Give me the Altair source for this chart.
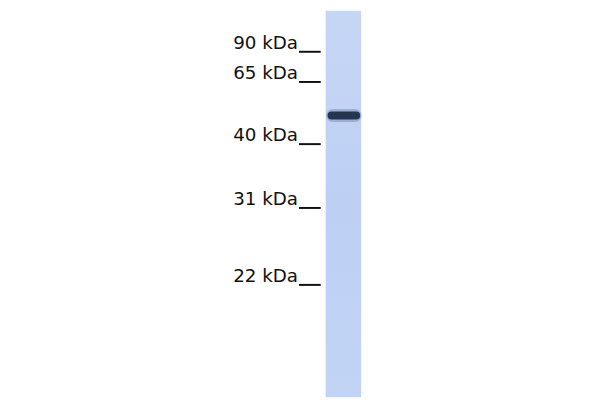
import altair as alt
import pandas as pd

# Marker ladder (kDa) and the detected band
marker_kda = [90, 65, 40, 31, 22]
marker_labels = ["90 kDa", "65 kDa", "40 kDa", "31 kDa", "22 kDa"]
band_kda = [51.5]
lane_names = ["sample"]

markers = pd.DataFrame({"kda": marker_kda, "label": marker_labels})
band = pd.DataFrame({"kda": band_kda})
lane = pd.DataFrame({"lane": lane_names})

# Gel migration is not linear in kDa: piecewise scale through the ladder positions
yscale = alt.Scale(domain=[90, 65, 40, 31, 22], range=[41.7, 72.3, 135.3, 200, 278],
                   nice=False, zero=False)
Y = alt.Y("kda:Q", scale=yscale, axis=None)

lane_layer = alt.Chart(lane).mark_rect(
    fill=alt.Gradient(
        gradient="linear", x1=0, x2=0, y1=0, y2=1,
        stops=[alt.GradientStop(color="#c6d6f5", offset=0),
               alt.GradientStop(color="#bdd0f4", offset=0.5),
               alt.GradientStop(color="#c2d4f5", offset=1)],
    )
).encode(x=alt.value(322), x2=alt.value(358), y=alt.value(0), y2=alt.value(392))

label_layer = alt.Chart(markers).mark_text(
    align="right", baseline="alphabetic", font="DejaVu Sans", fontSize=18.5,
    dy=-3, color="#111111"
).encode(x=alt.value(294), y=Y, text="label:N")

tick_layer = alt.Chart(markers).mark_rule(strokeWidth=2, color="#111111").encode(
    x=alt.value(295), x2=alt.value(317), y=Y
)

halo_layer = alt.Chart(band).mark_rule(
    strokeWidth=13, strokeCap="round", color="#5a6d93", opacity=0.35
).encode(x=alt.value(329), x2=alt.value(352), y=Y)

core_layer = alt.Chart(band).mark_rule(
    strokeWidth=8, strokeCap="round", color="#1f2e48", opacity=0.95
).encode(x=alt.value(328), x2=alt.value(353), y=Y)

chart = alt.layer(lane_layer, label_layer, tick_layer, halo_layer, core_layer).properties(
    width=592, height=392, padding=0, autosize=alt.AutoSizeParams(type="none")
).configure_view(stroke=None)

chart.save("out.html", embed_options={"renderer": "svg", "actions": False})
